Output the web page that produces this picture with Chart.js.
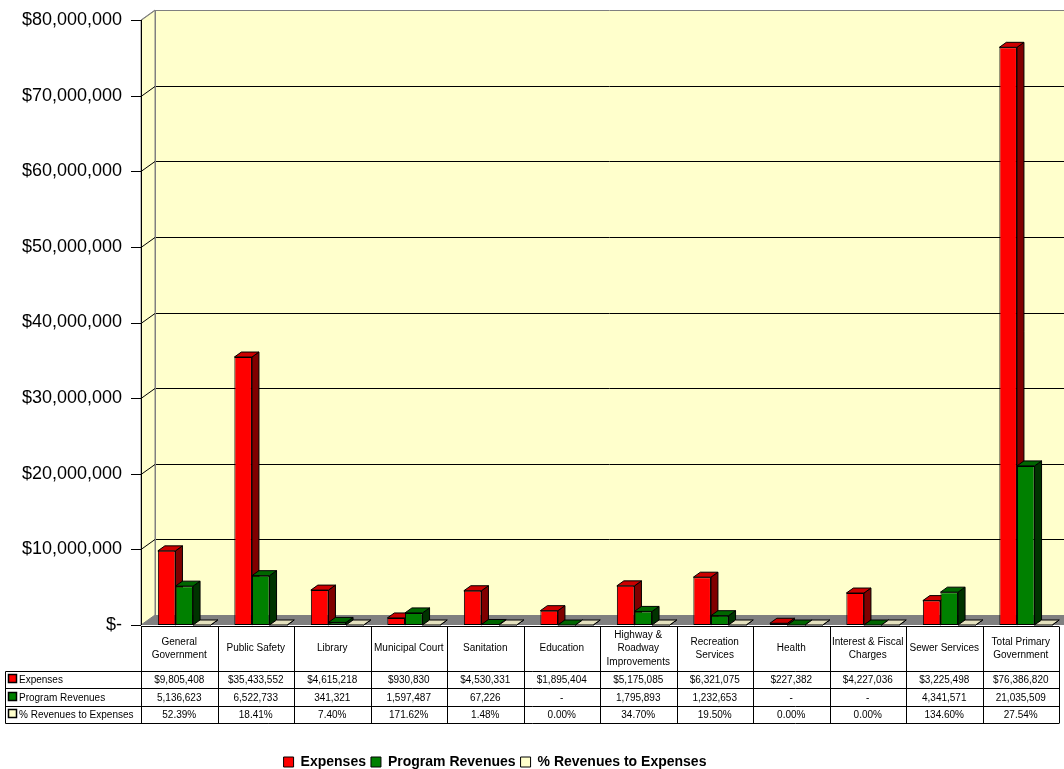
<!DOCTYPE html>
<html>
<head>
<meta charset="utf-8">
<script src="https://cdn.jsdelivr.net/npm/chart.js@4/dist/chart.umd.min.js"></script>
<style>
html, body { margin: 0; padding: 0; background: #fff; }
#wrap { width: 1064px; height: 769px; }
</style>
</head>
<body>
<div id="wrap"><canvas id="chart" width="1064" height="769"></canvas></div>
<script>
const categories = [
    ['General', 'Government'], ['Public Safety'], ['Library'], ['Municipal Court'],
    ['Sanitation'], ['Education'], ['Highway &', 'Roadway', 'Improvements'],
    ['Recreation', 'Services'], ['Health'], ['Interest & Fiscal', 'Charges'],
    ['Sewer Services'], ['Total Primary', 'Government']
];
const expenses = [9805408, 35433552, 4615218, 930830, 4530331, 1895404, 5175085, 6321075, 227382, 4227036, 3225498, 76386820];
const programRevenues = [5136623, 6522733, 341321, 1597487, 67226, 0, 1795893, 1232653, 0, 0, 4341571, 21035509];
const pctRevenues = [52.39, 18.41, 7.40, 171.62, 1.48, 0.00, 34.70, 19.50, 0.00, 0.00, 134.60, 27.54];
const seriesNames = ['Expenses', 'Program Revenues', '% Revenues to Expenses'];
const yMax = 80000000;
const yStep = 10000000;

const FONT = '"Liberation Sans", Arial, sans-serif';
const WALL = { dx: 14, dy: -10 };   // depth of the back wall
const BAR = { dx: 7, dy: -5 };      // depth of each bar
const FRONT_SHIFT = 5;              // front axis sits left of the category grid
const faces = [
    { front: '#FF0000', top: '#CC0000', side: '#800000' },
    { front: '#008000', top: '#006600', side: '#003300' },
    { front: '#FFFFCC', top: '#E4E1BE', side: '#9A9878' }
];

function money(v) { return '$' + v.toLocaleString('en-US'); }
function plain(v) { return v === 0 ? '-' : v.toLocaleString('en-US'); }

// walls, floor, gridlines and the 3D faces of every bar
const threeD = {
    id: 'threeD',
    afterLayout(chart) {
        const lg = chart.legend;
        lg.left -= 37; lg.right -= 37;
        lg.top += 10; lg.bottom += 10;
    },
    beforeDatasetsDraw(chart) {
        const ctx = chart.ctx;
        const area = chart.chartArea;
        const ys = chart.scales.y;
        const fx = area.left - FRONT_SHIFT;
        const top = ys.getPixelForValue(yMax);
        const bot = ys.getPixelForValue(0);
        const right = chart.width;
        ctx.save();
        ctx.lineWidth = 1;
        // back wall
        ctx.fillStyle = '#FFFFCC';
        ctx.fillRect(fx + WALL.dx, top + WALL.dy, right - fx - WALL.dx, bot - top);
        // left wall
        ctx.beginPath();
        ctx.moveTo(fx, top); ctx.lineTo(fx + WALL.dx, top + WALL.dy);
        ctx.lineTo(fx + WALL.dx, bot + WALL.dy); ctx.lineTo(fx, bot); ctx.closePath();
        ctx.fill();
        ctx.strokeStyle = '#808080';
        ctx.stroke();
        // floor
        ctx.fillStyle = '#808080';
        ctx.beginPath();
        ctx.moveTo(fx, bot); ctx.lineTo(fx + WALL.dx, bot + WALL.dy);
        ctx.lineTo(right, bot + WALL.dy); ctx.lineTo(right, bot); ctx.closePath();
        ctx.fill();
        // gridlines on the walls
        for (let v = yStep; v <= yMax; v += yStep) {
            const y = Math.round(ys.getPixelForValue(v)) + 0.5;
            ctx.strokeStyle = v === yMax ? '#808080' : '#000';
            ctx.beginPath();
            ctx.moveTo(fx, y); ctx.lineTo(fx + WALL.dx, y + WALL.dy); ctx.lineTo(right, y + WALL.dy);
            ctx.stroke();
        }
        ctx.strokeStyle = '#808080';
        ctx.beginPath();
        ctx.moveTo(fx + WALL.dx + 0.5, top + WALL.dy); ctx.lineTo(fx + WALL.dx + 0.5, bot + WALL.dy);
        ctx.stroke();
        // front axis and tick marks
        ctx.strokeStyle = '#000';
        ctx.beginPath();
        ctx.moveTo(fx + 0.5, top); ctx.lineTo(fx + 0.5, bot);
        for (let v = 0; v <= yMax; v += yStep) {
            const y = Math.round(ys.getPixelForValue(v)) + 0.5;
            ctx.moveTo(fx - 10, y); ctx.lineTo(fx, y);
        }
        ctx.stroke();
        // bar tops and sides
        ctx.strokeStyle = '#000';
        chart.data.datasets.forEach((ds, di) => {
            const meta = chart.getDatasetMeta(di);
            meta.data.forEach(bar => {
                const p = bar.getProps(['x', 'y', 'base', 'width'], true);
                const l = p.x - p.width / 2, r = p.x + p.width / 2;
                const y = Math.min(p.y, p.base), b = p.base;
                ctx.fillStyle = faces[di].side;
                ctx.beginPath();
                ctx.moveTo(r, y); ctx.lineTo(r + BAR.dx, y + BAR.dy);
                ctx.lineTo(r + BAR.dx, b + BAR.dy); ctx.lineTo(r, b); ctx.closePath();
                ctx.fill(); ctx.stroke();
                ctx.fillStyle = faces[di].top;
                ctx.beginPath();
                ctx.moveTo(l, y); ctx.lineTo(l + BAR.dx, y + BAR.dy);
                ctx.lineTo(r + BAR.dx, y + BAR.dy); ctx.lineTo(r, y); ctx.closePath();
                ctx.fill(); ctx.stroke();
            });
        });
        ctx.restore();
    },
    // data table under the plot
    afterDraw(chart) {
        const ctx = chart.ctx;
        const xs = chart.scales.x;
        const colW = xs.width / categories.length;
        const x0 = xs.getPixelForValue(0) - FRONT_SHIFT - colW / 2;
        const x1 = x0 + colW * categories.length;
        const t0 = Math.round(chart.chartArea.bottom) + 1.5;
        const hdr = 44, rowH = 17.5;
        const rowsY = [t0 + hdr, t0 + hdr + rowH, t0 + hdr + 2 * rowH, t0 + hdr + 3 * rowH];
        const rows = [
            expenses.map(money),
            programRevenues.map(plain),
            pctRevenues.map(v => v.toFixed(2) + '%')
        ];
        ctx.save();
        ctx.lineWidth = 1;
        ctx.strokeStyle = '#000';
        ctx.beginPath();
        ctx.moveTo(x0, t0); ctx.lineTo(x1, t0);
        rowsY.forEach(y => { ctx.moveTo(5.5, Math.round(y) + 0.5); ctx.lineTo(x1, Math.round(y) + 0.5); });
        ctx.moveTo(5.5, Math.round(rowsY[0]) + 0.5); ctx.lineTo(5.5, Math.round(rowsY[3]) + 0.5);
        for (let i = 0; i <= categories.length; i++) {
            const x = Math.round(x0 + i * colW) + 0.5;
            ctx.moveTo(x, t0); ctx.lineTo(x, Math.round(rowsY[3]) + 0.5);
        }
        ctx.stroke();
        ctx.fillStyle = '#000';
        ctx.font = '10px ' + FONT;
        ctx.textAlign = 'center';
        ctx.textBaseline = 'middle';
        categories.forEach((lines, i) => {
            const cx = x0 + (i + 0.5) * colW;
            const cy = t0 + hdr / 2;
            lines.forEach((s, k) => ctx.fillText(s, cx, cy + (k - (lines.length - 1) / 2) * 13.5));
            rows.forEach((r, ri) => ctx.fillText(r[i], cx, (rowsY[ri] + rowsY[ri + 1]) / 2 + 1));
        });
        ctx.textAlign = 'left';
        seriesNames.forEach((n, ri) => {
            const cy = (rowsY[ri] + rowsY[ri + 1]) / 2;
            ctx.fillStyle = faces[ri].front;
            ctx.fillRect(8.5, Math.round(cy) - 4.5, 8, 8);
            ctx.strokeStyle = '#000';
            ctx.lineWidth = 1.5;
            ctx.strokeRect(8.5, Math.round(cy) - 4.5, 8, 8);
            ctx.fillStyle = '#000';
            ctx.fillText(n, 19, cy + 1);
        });
        ctx.restore();
    }
};

new Chart(document.getElementById('chart'), {
    type: 'bar',
    data: {
        labels: categories,
        datasets: [
            { label: seriesNames[0], data: expenses, backgroundColor: faces[0].front },
            { label: seriesNames[1], data: programRevenues, backgroundColor: faces[1].front },
            { label: seriesNames[2], data: pctRevenues.map(v => v / 100), backgroundColor: faces[2].front }
        ]
    },
    options: {
        responsive: false,
        animation: false,
        events: [],
        layout: { padding: { top: 20, right: 0, left: 0, bottom: 0 } },
        datasets: {
            bar: {
                borderColor: '#000',
                borderWidth: 1,
                borderSkipped: false,
                barPercentage: 1,
                categoryPercentage: 0.69
            }
        },
        scales: {
            x: {
                grid: { display: false, drawTicks: false },
                border: { display: false },
                ticks: { display: false },
                afterFit(scale) { scale.height = 115; }
            },
            y: {
                min: 0,
                max: yMax,
                grid: { display: false, drawTicks: false },
                border: { display: false },
                ticks: {
                    stepSize: yStep,
                    padding: 24,
                    color: '#000',
                    font: { family: FONT, size: 18 },
                    callback: (v) => v === 0 ? '$-' : money(v)
                },
                afterFit(scale) {
                    scale.width = 146;
                    scale.paddingTop = 0;
                    scale.paddingBottom = 0;
                }
            }
        },
        plugins: {
            legend: {
                position: 'bottom',
                labels: {
                    boxWidth: 10,
                    boxHeight: 10,
                    padding: 5,
                    color: '#000',
                    font: { family: FONT, size: 14, weight: 'bold' }
                }
            },
            tooltip: { enabled: false }
        }
    },
    plugins: [threeD]
});
</script>
</body>
</html>
